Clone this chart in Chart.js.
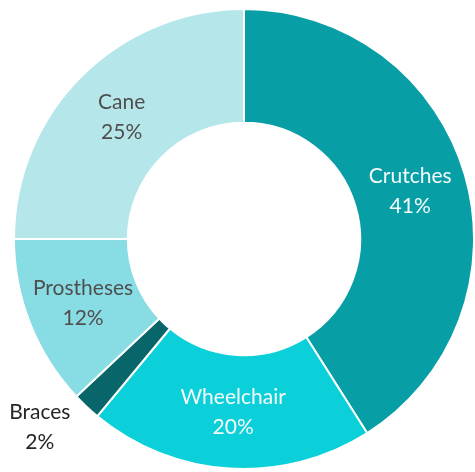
<!DOCTYPE html>
<html>
<head>
<meta charset="utf-8">
<script src="https://cdn.jsdelivr.net/npm/chart.js@4"></script>
<style>
  body { margin: 0; background: #fff; }
  canvas { display: block; }
</style>
</head>
<body>
<canvas id="myChart" width="475" height="472"></canvas>
<script>
const categories = ['Crutches', 'Wheelchair', 'Braces', 'Prostheses', 'Cane']
const shares = [41, 20, 2, 12, 25]
const slice_colors = ['#089ea5', '#0bcfd9', '#08666b', '#88dce3', '#b5e6ea']
const label_colors = ['#f4fbfb', '#f4fbfb', '#262626', '#4f4f4f', '#4f4f4f']

// writes "name / nn%" on each slice, braces sits outside
const slice_labels = {
    id: 'slice_labels',
    afterDatasetsDraw(chart) {
        const ctx = chart.ctx
        const meta = chart.getDatasetMeta(0)
        ctx.save()
        ctx.font = '21px Lato, "Open Sans", sans-serif'
        ctx.textAlign = 'center'
        ctx.textBaseline = 'middle'
        meta.data.forEach((arc, i) => {
            let mid = (arc.startAngle + arc.endAngle) / 2
            let r = (arc.innerRadius + arc.outerRadius) / 2
            if (categories[i] === 'Braces') {
                r = arc.outerRadius + 47
                mid += 0.075
            }
            const x = arc.x + Math.cos(mid) * r
            const y = arc.y + Math.sin(mid) * r
            ctx.fillStyle = label_colors[i]
            ctx.fillText(categories[i], x, y - 14)
            ctx.fillText(shares[i] + '%', x, y + 16)
        })
        ctx.restore()
    }
}

const ctx = document.getElementById('myChart')
new Chart(ctx, {
    type: 'doughnut',
    data: {
        labels: categories,
        datasets: [{
            data: shares,
            backgroundColor: slice_colors,
            borderColor: '#ffffff',
            borderWidth: 2
        }]
    },
    options: {
        responsive: false,
        animation: false,
        cutout: '50.5%',
        layout: { padding: { left: 13, right: 0, top: 7, bottom: 1 } },
        plugins: {
            legend: { display: false },
            tooltip: { enabled: false }
        }
    },
    plugins: [slice_labels]
})
</script>
</body>
</html>
